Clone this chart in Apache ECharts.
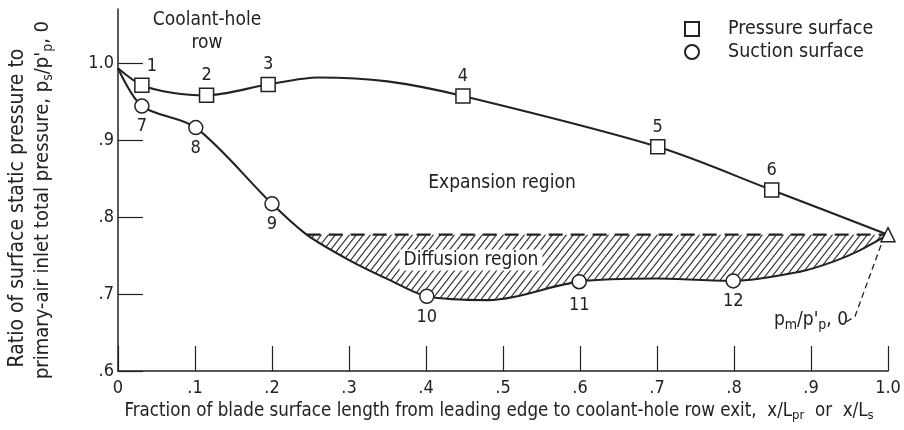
<!DOCTYPE html>
<html><head><meta charset="utf-8">
<script src="https://cdn.jsdelivr.net/npm/echarts@6/dist/echarts.min.js"></script>
<style>html,body{margin:0;padding:0;background:#fff}#c{width:904px;height:430px}</style>
</head><body><div id="c"></div>
<script>
// ---- data ----
const pressureX = [0.031, 0.115, 0.195, 0.448, 0.701, 0.849];
const pressureY = [0.971, 0.958, 0.972, 0.957, 0.891, 0.835];
const pressureLabels = ['1', '2', '3', '4', '5', '6'];
const suctionX = [0.031, 0.101, 0.200, 0.401, 0.599, 0.799];
const suctionY = [0.944, 0.916, 0.817, 0.697, 0.716, 0.717];
const suctionLabels = ['7', '8', '9', '10', '11', '12'];
// faired curves
const pressureCurveX = [0, 0.031, 0.072, 0.115, 0.195, 0.26, 0.35, 0.448, 0.701, 0.849, 1.0];
const pressureCurveY = [0.993, 0.971, 0.961, 0.958, 0.972, 0.981, 0.976, 0.957, 0.891, 0.835, 0.777];
const suctionCurveX = [0, 0.031, 0.101, 0.200, 0.245, 0.30, 0.353, 0.401, 0.48, 0.599, 0.70, 0.799, 0.886, 0.929, 0.964, 1.0];
const suctionCurveY = [0.993, 0.944, 0.916, 0.817, 0.777, 0.744, 0.718, 0.697, 0.692, 0.716, 0.720, 0.717, 0.729, 0.742, 0.757, 0.777];
const exitX = [1.0];
const exitY = [0.777];
const diffusionLevel = 0.777;
const diffusionStartX = 0.245;
const leaderX = [0.946, 0.957, 0.994];
const leaderY = [0.664, 0.6705, 0.772];
const xTicks = [0, 0.1, 0.2, 0.3, 0.4, 0.5, 0.6, 0.7, 0.8, 0.9, 1.0];
const xTickLabels = ['0', '.1', '.2', '.3', '.4', '.5', '.6', '.7', '.8', '.9', '1.0'];
const yTicks = [0.6, 0.7, 0.8, 0.9, 1.0];
const yTickLabels = ['.6', '.7', '.8', '.9', '1.0'];

// ---- font choice ----
function hasFont(name) {
  const g = document.createElement('canvas').getContext('2d');
  const s = 'abcdefghijklmnopqrstuvwxyzABCDEFGHIJ0123456789';
  let diff = false;
  for (const b of ['monospace', 'serif']) {
    g.font = '32px ' + b; const a = g.measureText(s).width;
    g.font = '32px "' + name + '", ' + b;
    if (Math.abs(g.measureText(s).width - a) > 0.5) diff = true;
  }
  return diff;
}
const cond = hasFont('DejaVu Sans Condensed');
const FF = cond ? '"DejaVu Sans Condensed", "DejaVu Sans", sans-serif' : '"DejaVu Sans", sans-serif';
const fs = n => cond ? n : Math.round(n * 0.9 * 10) / 10;
const INK = '#222';

function hatchPattern() {
  const c = document.createElement('canvas');
  const w = 7, h = 9;
  c.width = w; c.height = h;
  const g = c.getContext('2d');
  g.fillStyle = '#fff'; g.fillRect(0, 0, w, h);
  g.strokeStyle = '#333'; g.lineWidth = 1.1;
  g.beginPath();
  g.moveTo(-1, h + 1.3); g.lineTo(w + 1, -1.3);
  g.moveTo(-1, 1.3); g.lineTo(1, -1.3);
  g.moveTo(w - 1, h + 1.3); g.lineTo(w + 1, h - 1.3);
  g.stroke();
  return c;
}

function richSet(size) {
  return {
    n: { fontSize: size, fontFamily: FF, fill: INK, color: INK, lineHeight: size + 4 },
    s: { fontSize: Math.round(size * 0.72), fontFamily: FF, fill: INK, color: INK,
         lineHeight: Math.round(size * 0.72), padding: [Math.round(size * 0.5), 0, 0, 0] }
  };
}
function gText(x, y, text, size, extra) {
  return Object.assign({
    type: 'text', x: x, y: y, z: 50,
    style: Object.assign({ text: text, fontSize: size, fontFamily: FF, fill: INK,
      align: 'center', verticalAlign: 'middle', rich: richSet(size) }, (extra && extra.style) || {})
  }, extra && extra.rotation !== undefined ? { rotation: extra.rotation } : {});
}

const zip = (xs, ys) => xs.map((x, i) => [x, ys[i]]);
const hatchData = zip(suctionCurveX, suctionCurveY).filter(p => p[0] >= diffusionStartX - 1e-9);

const chart = echarts.init(document.getElementById('c'), null, { renderer: 'canvas' });
const TF = fs(19);
chart.setOption({
  animation: false,
  backgroundColor: '#fff',
  grid: { left: 118, right: 16, top: 9, bottom: 59 },
  xAxis: {
    type: 'value', min: 0, max: 1.0, interval: 0.1,
    axisLine: { lineStyle: { color: INK, width: 1.5 } },
    axisTick: { inside: true, length: 25, lineStyle: { color: INK, width: 1.2 }, customValues: xTicks },
    axisLabel: { customValues: xTicks, margin: 8, color: INK, fontFamily: FF, fontSize: fs(18),
      formatter: v => { const i = xTicks.findIndex(t => Math.abs(t - v) < 1e-6); return i >= 0 ? xTickLabels[i] : ''; } },
    splitLine: { show: false }
  },
  yAxis: {
    type: 'value', min: 0.6, max: 1.07,
    axisLine: { show: true, lineStyle: { color: INK, width: 1.5 } },
    axisTick: { show: true, inside: true, length: 25, lineStyle: { color: INK, width: 1.2 }, customValues: yTicks },
    axisLabel: { customValues: yTicks, margin: 4, color: INK, fontFamily: FF, fontSize: fs(18),
      formatter: v => { const i = yTicks.findIndex(t => Math.abs(t - v) < 1e-6); return i >= 0 ? yTickLabels[i] : ''; } },
    splitLine: { show: false }
  },
  legend: {
    orient: 'vertical', left: 679, top: 14, itemWidth: 14, itemHeight: 14, itemGap: 3,
    data: ['Pressure surface', 'Suction surface'],
    textStyle: { color: INK, fontFamily: FF, fontSize: fs(19.5), padding: [0, 0, 0, 24] }
  },
  series: [
    {
      name: 'hatch', type: 'line', data: hatchData, smooth: 0.3, symbol: 'none', clip: false,
      lineStyle: { width: 0, opacity: 0 },
      areaStyle: { origin: diffusionLevel, color: { image: hatchPattern(), repeat: 'repeat' }, opacity: 1 },
      silent: true, z: 1
    },
    {
      name: 'diffusion', type: 'line', data: [[diffusionStartX, diffusionLevel], [exitX[0], diffusionLevel]],
      symbol: 'none', clip: false, lineStyle: { color: INK, width: 2.2, type: [14, 8] }, z: 2
    },
    {
      name: 'pressureCurve', type: 'line', data: zip(pressureCurveX, pressureCurveY), smooth: 0.3,
      symbol: 'none', clip: false, lineStyle: { color: INK, width: 2.1 }, z: 3
    },
    {
      name: 'suctionCurve', type: 'line', data: zip(suctionCurveX, suctionCurveY), smooth: 0.3,
      symbol: 'none', clip: false, lineStyle: { color: INK, width: 2.1 }, z: 3
    },
    {
      name: 'leader', type: 'line', data: zip(leaderX, leaderY), symbol: 'none', clip: false,
      lineStyle: { color: INK, width: 1.3, type: [6, 4] }, z: 3
    },
    {
      name: 'Pressure surface', type: 'scatter', symbol: 'rect', symbolSize: 14, clip: false, z: 5,
      itemStyle: { color: '#fff', borderColor: INK, borderWidth: 1.5, opacity: 1 },
      data: pressureX.map((x, i) => ({ value: [x, pressureY[i]], name: pressureLabels[i],
        label: i === 0 ? { offset: [10, 1] } : undefined })),
      label: { show: true, position: 'top', distance: 3, formatter: p => p.name,
        color: INK, fontFamily: FF, fontSize: fs(18) }
    },
    {
      name: 'Suction surface', type: 'scatter', symbol: 'circle', symbolSize: 14, clip: false, z: 5,
      itemStyle: { color: '#fff', borderColor: INK, borderWidth: 1.5, opacity: 1 },
      data: suctionX.map((x, i) => ({ value: [x, suctionY[i]], name: suctionLabels[i],
        label: i === 4 ? { offset: [0, 3] } : undefined })),
      label: { show: true, position: 'bottom', distance: 4, formatter: p => p.name,
        color: INK, fontFamily: FF, fontSize: fs(18) }
    },
    {
      name: 'exit', type: 'scatter', symbol: 'triangle', symbolSize: 14, clip: false, z: 6,
      itemStyle: { color: '#fff', borderColor: INK, borderWidth: 1.5, opacity: 1 },
      data: zip(exitX, exitY)
    }
  ],
  graphic: [
    gText(18, 208, 'Ratio of surface static pressure to', fs(21), { rotation: Math.PI / 2 }),
    gText(43, 200, '{n|primary-air inlet total pressure, p}{s|s}{n|/p\'}{s|p}{n|, 0}', fs(20), { rotation: Math.PI / 2 }),
    gText(499, 411, '{n|Fraction of blade surface length from leading edge to coolant-hole row exit,  x/L}{s|pr}{n|  or  x/L}{s|s}', fs(18.6)),
    gText(207, 20, 'Coolant-hole', TF),
    gText(207, 43, 'row', TF),
    gText(502, 183, 'Expansion region', TF),
    gText(471, 260, 'Diffusion region', TF, { style: { backgroundColor: '#fff', padding: [1, 4, 1, 4] } }),
    gText(811, 320, '{n|p}{s|m}{n|/p\'}{s|p}{n|, 0}', TF)
  ]
});
</script></body></html>
